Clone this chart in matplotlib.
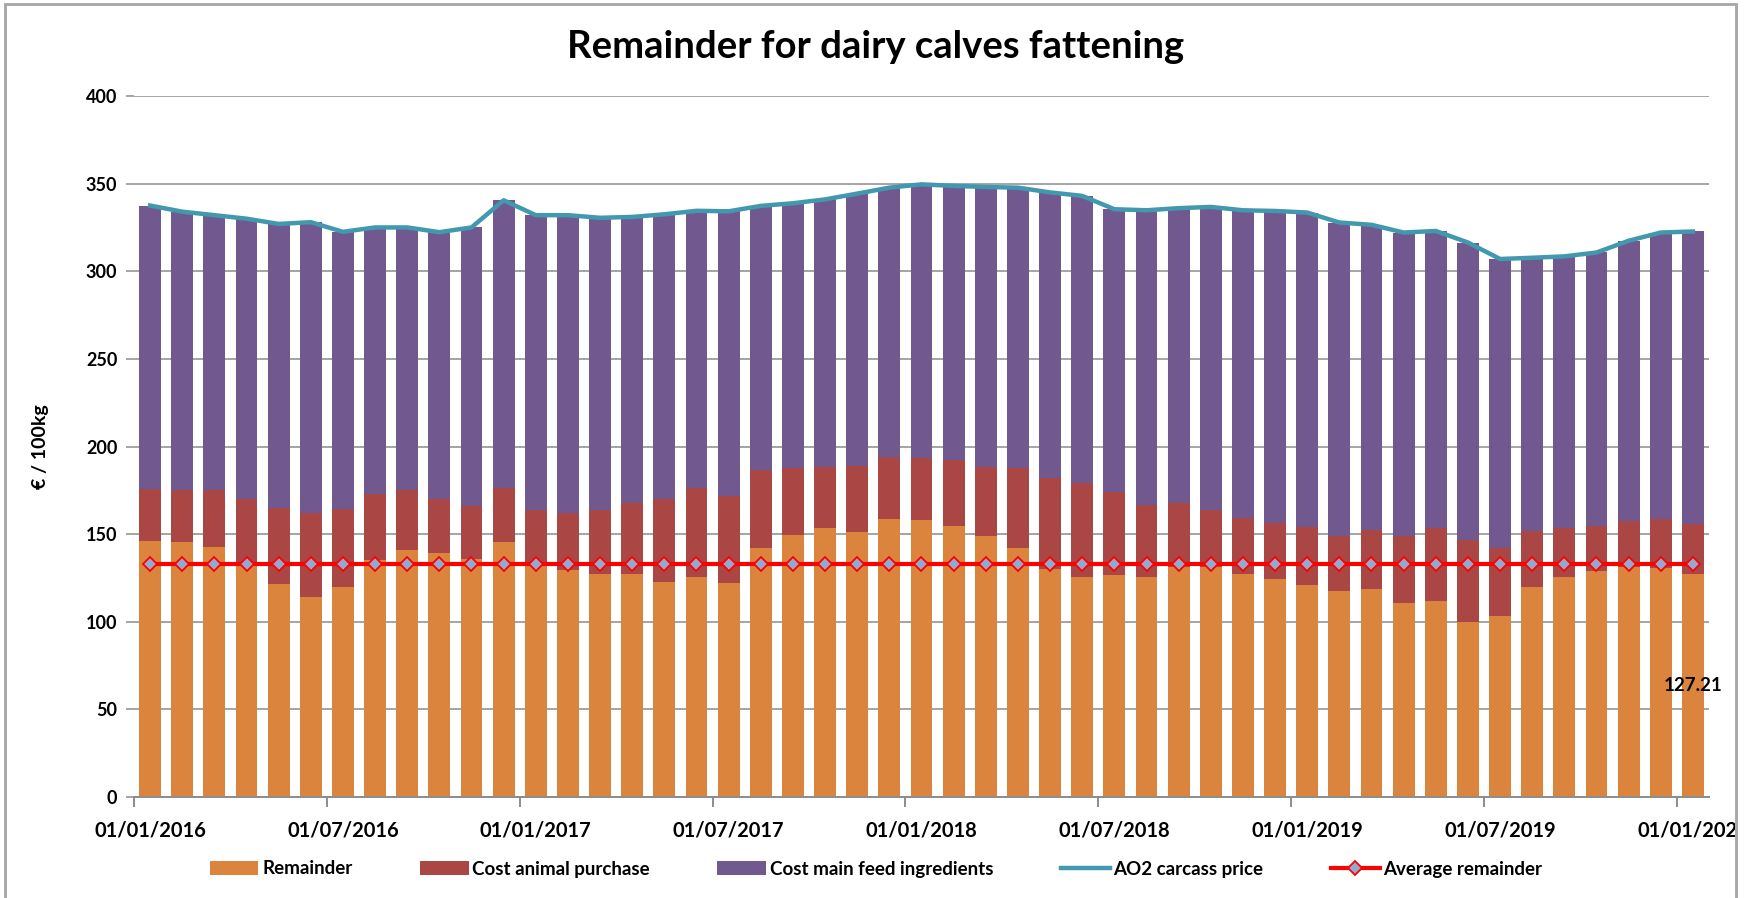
import numpy as np
import matplotlib
matplotlib.use('Agg')
import matplotlib.pyplot as plt
from matplotlib.patches import Rectangle
from matplotlib.transforms import Bbox, TransformedBbox

plt.rcParams['font.family'] = ['Lato', 'DejaVu Sans']
plt.rcParams['font.weight'] = 'bold'

# monthly values, Jan 2016 .. Jan 2020 (EUR / 100kg)
remainder = [146.1, 145.4, 142.8, 133.5, 121.4, 114.2, 119.9, 135.5, 140.9, 139.2,
             136.0, 145.5, 133.0, 129.4, 127.1, 127.2, 122.8, 125.6, 122.2, 142.2,
             149.5, 153.3, 151.0, 158.9, 158.0, 154.5, 149.2, 142.2, 130.0, 125.8,
             126.5, 125.4, 131.5, 131.3, 127.1, 124.6, 120.8, 117.3, 118.9, 110.8,
             112.0, 100.0, 103.3, 119.8, 125.5, 128.7, 131.3, 130.6, 127.21]
animal_cost = [29.9, 30.0, 32.6, 36.8, 43.4, 47.8, 44.7, 37.3, 34.1, 30.6,
               30.0, 31.0, 30.8, 32.6, 36.9, 40.3, 47.0, 50.7, 49.5, 44.3,
               38.1, 35.2, 38.0, 34.9, 35.3, 37.9, 39.3, 45.4, 51.8, 53.4,
               47.8, 41.3, 36.2, 32.5, 32.2, 32.0, 33.3, 31.7, 33.6, 38.4,
               41.3, 46.6, 38.5, 32.0, 28.1, 25.8, 26.4, 28.2, 28.59]
feed_cost = [161.5, 158.6, 156.6, 159.7, 162.2, 166.0, 157.9, 152.2, 150.0, 152.5,
             159.0, 164.0, 168.2, 170.0, 166.5, 163.5, 162.7, 158.2, 162.5, 150.8,
             151.2, 152.5, 155.3, 153.9, 156.3, 156.3, 159.6, 160.1, 163.2, 163.8,
             161.1, 168.1, 168.3, 172.9, 175.5, 177.8, 179.4, 178.8, 174.0, 172.9,
             169.7, 169.8, 165.2, 155.9, 154.9, 156.2, 159.7, 163.3, 166.9]
carcass_price = [337.5, 334.0, 332.0, 330.0, 327.0, 328.0, 322.5, 325.0, 325.0, 322.3,
                 325.0, 340.5, 332.0, 332.0, 330.5, 331.0, 332.5, 334.5, 334.2, 337.3,
                 338.8, 341.0, 344.3, 347.7, 349.6, 348.7, 348.1, 347.7, 345.0, 343.0,
                 335.4, 334.8, 336.0, 336.7, 334.8, 334.4, 333.5, 327.8, 326.5, 322.1,
                 323.0, 316.4, 307.0, 307.7, 308.5, 310.7, 317.4, 322.1, 322.7]
avg_remainder = 133.2

date_labels = ['01/01/2016', '01/07/2016', '01/01/2017', '01/07/2017', '01/01/2018',
               '01/07/2018', '01/01/2019', '01/07/2019', '01/01/2020']

W, H = 1752, 898
fig = plt.figure(figsize=(W / 100, H / 100), dpi=100)
ax = fig.add_axes([134 / W, 1 - 797 / H, (1709 - 134) / W, (797 - 96) / H])

n = len(remainder)
x = np.arange(n) + 0.5
rem = np.array(remainder)
ani = np.array(animal_cost)
bw = 0.68

b1 = ax.bar(x, rem, bw, color='#DA843E', label='Remainder', zorder=2)
b2 = ax.bar(x, ani, bw, bottom=rem, color='#AA4643', label='Cost animal purchase', zorder=2)
b3 = ax.bar(x, feed_cost, bw, bottom=rem + ani, color='#71588F',
            label='Cost main feed ingredients', zorder=2)
l1, = ax.plot(x, carcass_price, color='#4198AF', lw=3.2, label='AO2 carcass price', zorder=3)
l2, = ax.plot(x, [avg_remainder] * n, color='#FF0000', lw=3, marker='D', ms=7.5,
              mfc='#93A9CF', mec='#FF0000', mew=1.3, label='Average remainder', zorder=4)

ax.text(x[-1], remainder[-1] / 2, f'{remainder[-1]:.2f}', ha='center', va='center',
        fontsize=13.5, fontweight='bold', color='black', zorder=5)

ax.set_xlim(0, n)
ax.set_ylim(0, 400)
ax.set_yticks(np.arange(0, 401, 50))
ax.yaxis.grid(True, color='#8C8C8C', lw=1.1)
ax.set_axisbelow(True)
for s in ['top', 'right', 'left']:
    ax.spines[s].set_visible(False)
ax.spines['bottom'].set_color('#8C8C8C')
ax.spines['bottom'].set_linewidth(1.4)
ax.tick_params(axis='y', length=6, color='#8C8C8C', width=1.1, labelsize=13, pad=6)

major = np.arange(0, n, 6)
ax.set_xticks(major)
ax.set_xticklabels([])
ax.set_xticks(major + 0.5, labels=date_labels, minor=True)
ax.tick_params(axis='x', which='major', length=7, color='#8C8C8C', width=1.4)
ax.tick_params(axis='x', which='minor', length=0, labelsize=14.5, pad=17)

clip = TransformedBbox(Bbox([[0, 0], [1735 / W, 1]]), fig.transFigure)
for t in ax.get_xticklabels(minor=True):
    t.set_clip_on(True)
    t.set_clip_box(clip)

ax.set_ylabel('€ / 100kg', fontsize=14, fontweight='bold')
ax.yaxis.set_label_coords(-0.054, 0.5)

fig.text(0.5, 1 - 47 / H, 'Remainder for dairy calves fattening', ha='center', va='center',
         fontsize=27.5, fontweight='bold')

fig.legend(handles=[b1, b2, b3, l1, l2], loc='center', bbox_to_anchor=(0.5, 1 - 869 / H),
           ncol=5, frameon=False, fontsize=13.5, handlelength=2.6, handleheight=0.85,
           handletextpad=0.2, columnspacing=3.6)

fig.add_artist(Rectangle((5 / W, -0.05), (1736 - 5) / W, 1 - 4 / H + 0.05,
                         transform=fig.transFigure, fill=False, edgecolor='#A6A6A6', lw=2))

fig.savefig('out.png', dpi=100)
